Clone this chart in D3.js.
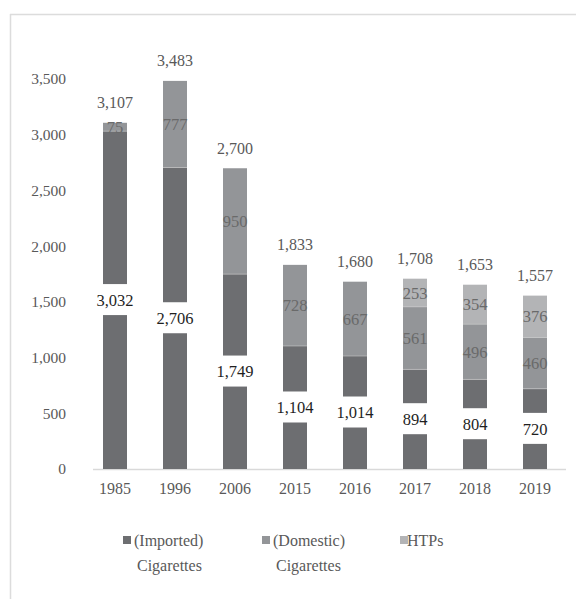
<!DOCTYPE html>
<html>
<head>
<meta charset="utf-8">
<script src="https://cdn.jsdelivr.net/npm/d3@7"></script>
<style>
  html, body { margin: 0; padding: 0; background: #fff; }
  svg { display: block; }
  text { font-family: "Liberation Serif", "DejaVu Serif", "Noto Serif", serif; }
</style>
</head>
<body>
<svg id="chart" width="576" height="599"></svg>
<script>
const years = ["1985", "1996", "2006", "2015", "2016", "2017", "2018", "2019"];
const imported = [3032, 2706, 1749, 1104, 1014, 894, 804, 720];
const domestic = [75, 777, 950, 728, 667, 561, 496, 460];
const htps = [0, 0, 0, 0, 0, 253, 354, 376];
const totals = [3107, 3483, 2700, 1833, 1680, 1708, 1653, 1557];
const yTicks = [0, 500, 1000, 1500, 2000, 2500, 3000, 3500];
const seriesNames = ["(Imported)\nCigarettes", "(Domestic)\nCigarettes", "HTPs"];
const colors = ["#6d6e71", "#939598", "#b3b4b6"];

const svg = d3.select("#chart");
const fmt = d3.format(",");
const FF = '"Liberation Serif", "DejaVu Serif", "Noto Serif", serif';

// frame
svg.append("line").attr("x1", 10).attr("x2", 576).attr("y1", 14.5).attr("y2", 14.5)
  .attr("stroke", "#dcdcdc").attr("stroke-width", 1.5);
svg.append("line").attr("x1", 10.5).attr("x2", 10.5).attr("y1", 14).attr("y2", 599)
  .attr("stroke", "#dcdcdc").attr("stroke-width", 1.5);

const x = d3.scaleBand().domain(years).range([85, 565]).paddingInner(0.6).paddingOuter(0.3);
const y = d3.scaleLinear().domain([0, 3500]).range([469, 79]);

// y axis labels
const yAxis = d3.axisLeft(y).tickValues(yTicks).tickFormat(fmt).tickSize(0).tickPadding(0);
const gy = svg.append("g").attr("transform", "translate(66,0)").call(yAxis);
gy.attr("font-family", FF);
gy.select(".domain").remove();
gy.selectAll("text").attr("fill", "#595959").style("font-size", "15.5px");

// x axis
const xAxis = d3.axisBottom(x).tickSize(0).tickPadding(14);
const gx = svg.append("g").attr("transform", "translate(0,469)").call(xAxis);
gx.attr("font-family", FF);
gx.select(".domain").attr("stroke", "#d9d9d9").attr("stroke-width", 1.5)
  .attr("d", "M93,0.5H566");
gx.selectAll("text").attr("fill", "#595959").style("font-size", "16px");

// stack
const rows = years.map((yr, i) => ({ year: yr, a: imported[i], b: domestic[i], c: htps[i] }));
const stack = d3.stack().keys(["a", "b", "c"])(rows);

const layers = svg.append("g").selectAll("g").data(stack).join("g")
  .attr("fill", (d, i) => colors[i]);
layers.selectAll("rect").data(d => d.filter(p => p[1] - p[0] > 0)).join("rect")
  .attr("x", d => x(d.data.year))
  .attr("width", x.bandwidth())
  .attr("y", d => y(d[1]))
  .attr("height", d => y(d[0]) - y(d[1]));

// segment separators
layers.filter((d, i) => i > 0).selectAll("line.sep").data(d => d.filter(p => p[1] - p[0] > 0)).join("line")
  .attr("x1", d => x(d.data.year)).attr("x2", d => x(d.data.year) + x.bandwidth())
  .attr("y1", d => y(d[0])).attr("y2", d => y(d[0]))
  .attr("stroke", "#c8c8c8").attr("stroke-width", 0.6);

// dark segment labels with white boxes
const darkLab = svg.append("g").selectAll("g").data(stack[0]).join("g")
  .attr("transform", d => `translate(${x(d.data.year) + x.bandwidth() / 2},${y((d[0] + d[1]) / 2)})`);
darkLab.append("rect").attr("x", -24).attr("width", 48).attr("y", -16).attr("height", 31).attr("fill", "#fff");
darkLab.append("text").attr("text-anchor", "middle").attr("dy", "0.35em")
  .attr("fill", "#1f1f1f").style("font-size", "16.5px")
  .text(d => fmt(d[1] - d[0]));

// other segment labels
[1, 2].forEach(k => {
  svg.append("g").selectAll("text").data(stack[k].filter(p => p[1] - p[0] > 0)).join("text")
    .attr("x", d => x(d.data.year) + x.bandwidth() / 2)
    .attr("y", d => y((d[0] + d[1]) / 2))
    .attr("dy", "0.35em").attr("text-anchor", "middle")
    .attr("fill", "#6a6a6a").style("font-size", "16.5px")
    .text(d => fmt(d[1] - d[0]));
});

// totals
svg.append("g").selectAll("text").data(years).join("text")
  .attr("x", d => x(d) + x.bandwidth() / 2)
  .attr("y", (d, i) => y(totals[i]) - 20)
  .attr("dy", "0.35em").attr("text-anchor", "middle")
  .attr("fill", "#595959").style("font-size", "16px")
  .text((d, i) => fmt(totals[i]));

// legend
const legX = [123, 262, 400];
const leg = svg.append("g").selectAll("g").data(seriesNames).join("g")
  .attr("transform", (d, i) => `translate(${legX[i]},540)`);
leg.append("rect").attr("x", 0).attr("y", -4).attr("width", 8).attr("height", 8)
  .attr("fill", (d, i) => colors[i]);
leg.each(function (d, i) {
  const lines = d.split("\n");
  const t = d3.select(this).append("text").attr("fill", "#595959").style("font-size", "16px");
  lines.forEach((ln, j) => {
    t.append("tspan").attr("x", j === 0 ? (i === 2 ? 7 : 11) : 14).attr("y", j * 25).attr("dy", "0.35em").text(ln);
  });
});
</script>
</body>
</html>
